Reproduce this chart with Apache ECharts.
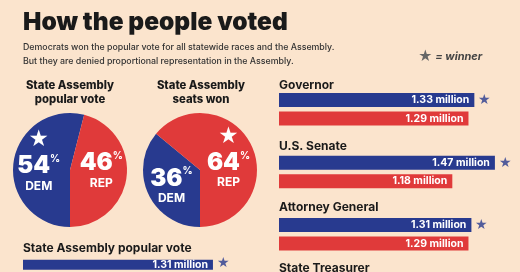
<!DOCTYPE html>
<html><head><meta charset="utf-8">
<script src="https://cdn.jsdelivr.net/npm/echarts@6/dist/echarts.min.js"></script>
<style>html,body{margin:0;padding:0;background:#fbe4cd;}#c{width:520px;height:272px;}</style>
</head><body><div id="c"></div>
<script>
// ---- data ----
var parties = ['DEM', 'REP'];
var pieTitles = ['State Assembly\npopular vote', 'State Assembly\nseats won'];
var popularVotePct = [54, 46];
var seatsWonPct = [36, 64];
var races = ['Governor', 'U.S. Senate', 'Attorney General', 'State Treasurer'];
var demVotes = [1.33, 1.47, 1.31];
var repVotes = [1.29, 1.18, 1.29];
var assemblyLabel = 'State Assembly popular vote';
var assemblyDem = [1.31];

var BLUE = '#283a8f', RED = '#e03a3a', BG = '#fbe4cd';
var FONT = 'Inter, "Noto Sans", sans-serif';

var chart = echarts.init(document.getElementById('c'), null, {renderer: 'canvas'});

var titles = [
  {text: 'How the people voted', left: 23, top: 10, padding: 0,
   textStyle: {fontFamily: FONT, fontWeight: 900, fontSize: 24.5, color: '#1a1a1a'}},
  {text: 'Democrats won the popular vote for all statewide races and the Assembly.\nBut they are denied proportional representation in the Assembly.',
   left: 23, top: 41, padding: 0, textStyle: {fontFamily: FONT, fontWeight: 500, fontSize: 8.8, lineHeight: 13.5, color: '#333'}},
  {text: '{s|★} = winner', left: 418, top: 50, padding: 0,
   textStyle: {fontFamily: FONT, fontStyle: 'italic', fontSize: 11, color: '#444',
     rich: {s: {fontSize: 14, color: '#666', fontStyle: 'normal'}}}},
  {text: pieTitles[0], left: 70, textAlign: 'center', top: 79, padding: 0,
   textStyle: {fontFamily: FONT, fontWeight: 800, fontSize: 11.3, lineHeight: 14, color: '#1a1a1a', align: 'center'}},
  {text: pieTitles[1], left: 201, textAlign: 'center', top: 79, padding: 0,
   textStyle: {fontFamily: FONT, fontWeight: 800, fontSize: 11.3, lineHeight: 14, color: '#1a1a1a', align: 'center'}}
];

var raceTops = [90.75, 153.5, 215.75, 278];
var labelTops = [79, 140.5, 201.5, 262.5];
var grids = [], xAxes = [], yAxes = [], series = [];

races.forEach(function (r, i) {
  titles.push({text: r, left: 279, top: labelTops[i], padding: 0,
    textStyle: {fontFamily: FONT, fontWeight: 700, fontSize: 12, color: '#1a1a1a'}});
});
titles.push({text: assemblyLabel, left: 23, top: 242, padding: 0,
  textStyle: {fontFamily: FONT, fontWeight: 700, fontSize: 12, color: '#1a1a1a'}});

function addBarGroup(left, top, width, dem, rep) {
  var gi = grids.length;
  grids.push({left: left, top: top, width: width, height: 37, containLabel: false});
  xAxes.push({gridIndex: gi, type: 'value', min: 0, max: 1.6, show: false});
  yAxes.push({gridIndex: gi, type: 'category', data: parties, inverse: true, show: false});
  var vals = rep == null ? [dem] : [dem, rep];
  series.push({
    type: 'bar', xAxisIndex: gi, yAxisIndex: gi, barWidth: 14, animation: false,
    data: vals.map(function (v, k) { return {value: v, itemStyle: {color: k === 0 ? BLUE : RED}}; }),
    label: {show: true, position: 'insideRight', distance: 5, color: '#fff',
      fontFamily: FONT, fontWeight: 700, fontSize: 10.5,
      formatter: function (p) { return p.value.toFixed(2) + ' million'; }}
  });
  var winIdx = (rep == null || dem >= rep) ? 0 : 1;
  series.push({
    type: 'scatter', xAxisIndex: gi, yAxisIndex: gi, symbolSize: 0, animation: false,
    data: [[vals[winIdx], parties[winIdx]]],
    label: {show: true, position: 'right', distance: 4, formatter: '★', color: BLUE, fontSize: 14}
  });
}
for (var i = 0; i < demVotes.length; i++) addBarGroup(279, raceTops[i], 235, demVotes[i], repVotes[i]);
addBarGroup(23, 259.75, 232, assemblyDem[0], null);

function pieSeries(cx, vals, pads) {
  var win = vals[0] >= vals[1] ? 0 : 1;
  return {
    type: 'pie', center: [cx, 170], radius: 57, startAngle: -90, clockwise: true,
    animation: false, silent: true, labelLine: {show: false},
    data: vals.map(function (v, k) {
      return {
        value: v, name: parties[k],
        itemStyle: {color: k === 0 ? BLUE : RED},
        label: {padding: pads[k],
          formatter: (k === win ? '{star|★}\n' : '') + '{num|' + v + '}{pct|%}\n{party|' + parties[k] + '}'}
      };
    }),
    label: {show: true, position: 'inside', color: '#fff', fontFamily: FONT, align: 'center',
      rich: {
        star: {fontSize: 20, color: '#fff', lineHeight: 28, align: 'center'},
        num: {fontSize: 24, fontWeight: 900, color: '#fff', lineHeight: 24, fontFamily: FONT},
        pct: {fontSize: 10, fontWeight: 700, color: '#fff', verticalAlign: 'top', lineHeight: 24, padding: [0, 0, 10, 0]},
        party: {fontSize: 12, fontWeight: 700, color: '#fff', lineHeight: 16, align: 'center'}
      }}
  };
}
series.push(pieSeries(70, popularVotePct, [[0, 0, 12, 0], [0, 0, 6, 0]]));
series.push(pieSeries(200, seatsWonPct, [[6, 0, 0, 0], [0, 0, 0, 0]]));

chart.setOption({
  backgroundColor: BG,
  title: titles,
  grid: grids, xAxis: xAxes, yAxis: yAxes,
  series: series
});
</script></body></html>
